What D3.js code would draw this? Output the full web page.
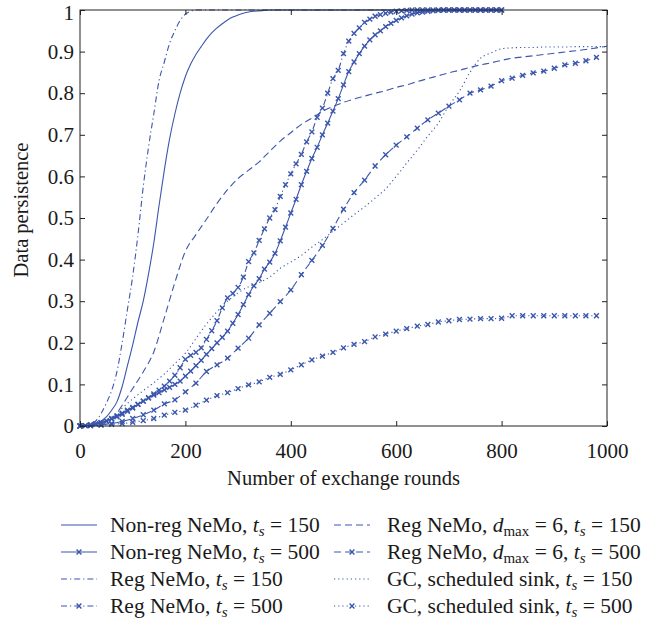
<!DOCTYPE html>
<html>
<head>
<meta charset="utf-8">
<script src="https://cdn.jsdelivr.net/npm/d3@7"></script>
<style>
  body { margin: 0; background: #fff; }
  text { font-family: "Liberation Serif", "DejaVu Serif", serif; fill: #1a1a1a; }
</style>
</head>
<body>
<div id="chart"></div>
<script>
// data
var xTicks = [0, 200, 400, 600, 800, 1000];
var yTicks = [0, 0.1, 0.2, 0.3, 0.4, 0.5, 0.6, 0.7, 0.8, 0.9, 1];

var rounds10 = d3.range(0, 801, 10);   // 0..800 every 10 rounds
var rounds20 = d3.range(0, 981, 20);   // 0..980 every 20 rounds
var rounds20b = d3.range(0, 1001, 20); // 0..1000 every 20 rounds

var nonReg150 = [0, .001, .003, .006, .012, .022, .038, .058, .095, .145,
  .195, .25, .3, .365, .44, .53, .615, .69, .75, .8,
  .84, .87, .893, .912, .93, .945, .957, .967, .976, .983,
  .988, .992, .995, .997, .998, .999, 1, 1, 1, 1,
  1, 1, 1, 1, 1, 1, 1, 1, 1, 1,
  1, 1, 1, 1, 1, 1, 1, 1, 1, 1,
  1, 1, 1, 1, 1, 1, 1, 1, 1, 1,
  1, 1, 1, 1, 1, 1, 1, 1, 1, 1,
  1];

var nonReg500 = [0, .001, .003, .005, .008, .012, .018, .024, .031, .038,
  .045, .052, .06, .067, .074, .08, .087, .093, .1, .108,
  .12, .132, .145, .158, .172, .186, .2, .213, .228, .247,
  .268, .292, .316, .337, .354, .377, .394, .415, .445, .478,
  .512, .545, .58, .612, .643, .67, .7, .728, .757, .787,
  .82, .852, .875, .895, .913, .928, .94, .95, .96, .968,
  .975, .981, .986, .99, .993, .995, .997, .998, .999, 1,
  1, 1, 1, 1, 1, 1, 1, 1, 1, 1,
  1];

var reg150 = [0, .001, .004, .012, .03, .055, .085, .13, .2, .28,
  .36, .46, .575, .67, .75, .83, .875, .92, .95, .975,
  .99, .997, 1, 1, 1, 1, 1, 1, 1, 1,
  1, 1, 1, 1, 1, 1, 1, 1, 1, 1,
  1, 1, 1, 1, 1, 1, 1, 1, 1, 1,
  1, 1, 1, 1, 1, 1, 1, 1, 1, 1,
  1, 1, 1, 1, 1, 1, 1, 1, 1, 1,
  1, 1, 1, 1, 1, 1, 1, 1, 1, 1,
  1];

var reg500 = [0, .001, .003, .005, .008, .012, .017, .022, .028, .035,
  .043, .052, .06, .068, .077, .086, .096, .108, .122, .14,
  .16, .17, .177, .188, .208, .229, .253, .284, .308, .319,
  .333, .358, .395, .416, .446, .474, .5, .52, .552, .58,
  .606, .63, .653, .683, .707, .742, .764, .8, .835, .855,
  .895, .925, .944, .957, .97, .978, .985, .989, .992, .995,
  .997, .998, .999, 1, 1, 1, 1, 1, 1, 1,
  1, 1, 1, 1, 1, 1, 1, 1, 1, 1,
  1];

var dmax150 = [0, .003, .008, .015, .05, .09, .13, .178, .26, .345,
  .42, .46, .497, .535, .568, .595, .615, .635, .66, .685,
  .705, .725, .74, .756, .768, .778, .786, .793, .8, .806,
  .814, .82, .828, .835, .842, .849, .855, .862, .868, .873,
  .879, .884, .887, .89, .893, .896, .899, .902, .905, .909,
  .913];

var dmax500 = [0, .001, .003, .006, .011, .018, .027, .038, .053, .063,
  .082, .103, .131, .147, .163, .187, .211, .243, .271, .299,
  .327, .364, .398, .434, .475, .521, .561, .591, .625, .652,
  .675, .695, .716, .736, .752, .769, .784, .8, .808, .817,
  .83, .836, .843, .849, .853, .86, .868, .872, .878, .886];

var gc150 = [0, .002, .008, .022, .043, .065, .085, .104, .125, .15,
  .175, .21, .245, .275, .3, .32, .335, .345, .358, .379,
  .394, .41, .43, .448, .468, .488, .508, .527, .548, .57,
  .6, .632, .663, .697, .728, .77, .805, .85, .884, .897,
  .907, .909, .91, .91, .911, .911, .911, .912, .912, .912,
  .912];

var gc500 = [0, .001, .002, .004, .006, .009, .013, .018, .026, .033,
  .038, .05, .062, .073, .08, .09, .099, .106, .117, .124,
  .135, .147, .159, .168, .177, .188, .196, .203, .214, .221,
  .228, .234, .24, .244, .25, .253, .256, .257, .258, .258,
  .259, .265, .265, .265, .265, .265, .265, .265, .265, .265];

var blue = "#3b57ad";

// series: rounds, values, dash pattern, marker
var series = [
  {x: rounds10, y: nonReg150, dash: null, mark: false, col: 0},
  {x: rounds10, y: nonReg500, dash: null, mark: true, col: 0},
  {x: rounds10, y: reg150, dash: "6,3,1.2,3", mark: false, col: 0},
  {x: rounds10, y: reg500, dash: "6,3,1.2,3", mark: true, col: 0},
  {x: rounds20b, y: dmax150, dash: "7,4", mark: false, col: 1},
  {x: rounds20, y: dmax500, dash: "7,4", mark: true, col: 1},
  {x: rounds20b, y: gc150, dash: "1.2,3", mark: false, col: 1},
  {x: rounds20, y: gc500, dash: "1.2,3", mark: true, col: 1}
];

var width = 659, height = 619;
var margin = {top: 10, right: 52, bottom: 193, left: 80};

var svg = d3.select("#chart")
  .append("svg")
    .attr("width", width)
    .attr("height", height);

var x = d3.scaleLinear().domain([0, 1000]).range([margin.left, width - margin.right]);
var y = d3.scaleLinear().domain([0, 1]).range([height - margin.bottom, margin.top]);

var plot = svg.append("g");

var line = d3.line()
  .curve(d3.curveMonotoneX)
  .x(function (d) { return x(d[0]); })
  .y(function (d) { return y(d[1]); });

var cross = "M-2.4,-2.4L2.4,2.4M-2.4,2.4L2.4,-2.4";

series.forEach(function (s) {
  var pts = s.x.map(function (r, i) { return [r, s.y[i]]; });
  plot.append("path")
    .datum(pts)
    .attr("d", line)
    .attr("fill", "none")
    .attr("stroke", blue)
    .attr("stroke-width", 1.1)
    .attr("stroke-dasharray", s.dash);
  if (s.mark) {
    plot.append("g").selectAll("path")
      .data(pts)
      .enter()
      .append("path")
        .attr("d", cross)
        .attr("transform", function (d) { return "translate(" + x(d[0]) + "," + y(d[1]) + ")"; })
        .attr("stroke", blue)
        .attr("stroke-width", 1.4);
  }
});

// frame
svg.append("rect")
  .attr("x", x(0)).attr("y", y(1))
  .attr("width", x(1000) - x(0)).attr("height", y(0) - y(1))
  .attr("fill", "none").attr("stroke", "#222").attr("stroke-width", 1);

// ticks inward on all four sides
svg.append("g").attr("transform", "translate(0," + y(0) + ")")
  .call(d3.axisBottom(x).tickValues(xTicks).tickSizeInner(-5).tickSizeOuter(0).tickPadding(17).tickFormat(d3.format("d")));
svg.append("g").attr("transform", "translate(0," + y(1) + ")")
  .call(d3.axisTop(x).tickValues(xTicks).tickSizeInner(-5).tickSizeOuter(0).tickFormat(""));
var yAxis = svg.append("g").attr("transform", "translate(" + x(0) + ",0)")
  .call(d3.axisLeft(y).tickValues(yTicks).tickSizeInner(-5).tickSizeOuter(0).tickPadding(6).tickFormat(d3.format("~g")));
svg.append("g").attr("transform", "translate(" + x(1000) + ",0)")
  .call(d3.axisRight(y).tickValues(yTicks).tickSizeInner(-5).tickSizeOuter(0).tickFormat(""));

svg.selectAll(".domain").remove();
svg.selectAll(".tick line").attr("stroke", "#222");
svg.selectAll(".tick text")
  .style("font-family", "'Liberation Serif', serif")
  .style("font-size", "21px")
  .attr("fill", "#1a1a1a");
// keep the top label inside the picture
yAxis.selectAll(".tick text").filter(function (d) { return d === 1; }).attr("dy", "0.45em");

// axis titles
svg.append("text")
  .attr("x", (x(0) + x(1000)) / 2)
  .attr("y", 485)
  .attr("text-anchor", "middle")
  .style("font-size", "20.5px")
  .text("Number of exchange rounds");

svg.append("text")
  .attr("transform", "translate(28,210) rotate(-90)")
  .attr("text-anchor", "middle")
  .style("font-size", "20.5px")
  .text("Data persistence");

// legend
var legendLabels = [
  ["Non-reg NeMo, ", null, 150],
  ["Non-reg NeMo, ", null, 500],
  ["Reg NeMo, ", null, 150],
  ["Reg NeMo, ", null, 500],
  ["Reg NeMo, ", 6, 150],
  ["Reg NeMo, ", 6, 500],
  ["GC, scheduled sink, ", null, 150],
  ["GC, scheduled sink, ", null, 500]
];
var legCols = [{line: 61, text: 110}, {line: 334, text: 387}];
var legRow0 = 532, legStep = 27;

series.forEach(function (s, i) {
  var row = i % 4, c = legCols[s.col];
  var ly = legRow0 + row * legStep;
  var g = svg.append("g");
  g.append("line")
    .attr("x1", c.line).attr("x2", c.line + 36)
    .attr("y1", ly - 7).attr("y2", ly - 7)
    .attr("stroke", blue).attr("stroke-width", 1.1)
    .attr("stroke-dasharray", s.dash);
  if (s.mark) {
    g.append("path")
      .attr("d", cross)
      .attr("transform", "translate(" + (c.line + 18) + "," + (ly - 7) + ")")
      .attr("stroke", blue).attr("stroke-width", 1.4);
  }
  var lab = legendLabels[i];
  var t = g.append("text").attr("x", c.text).attr("y", ly).style("font-size", "21.5px");
  t.append("tspan").text(lab[0]);
  if (lab[1] != null) {
    t.append("tspan").style("font-style", "italic").text("d");
    t.append("tspan").attr("dy", 4).style("font-size", "15px").text("max");
    t.append("tspan").attr("dy", -4).text(" = " + lab[1] + ", ");
  }
  t.append("tspan").style("font-style", "italic").text("t");
  t.append("tspan").attr("dy", 4).style("font-style", "italic").style("font-size", "15px").text("s");
  t.append("tspan").attr("dy", -4).text(" = " + lab[2]);
});
</script>
</body>
</html>
